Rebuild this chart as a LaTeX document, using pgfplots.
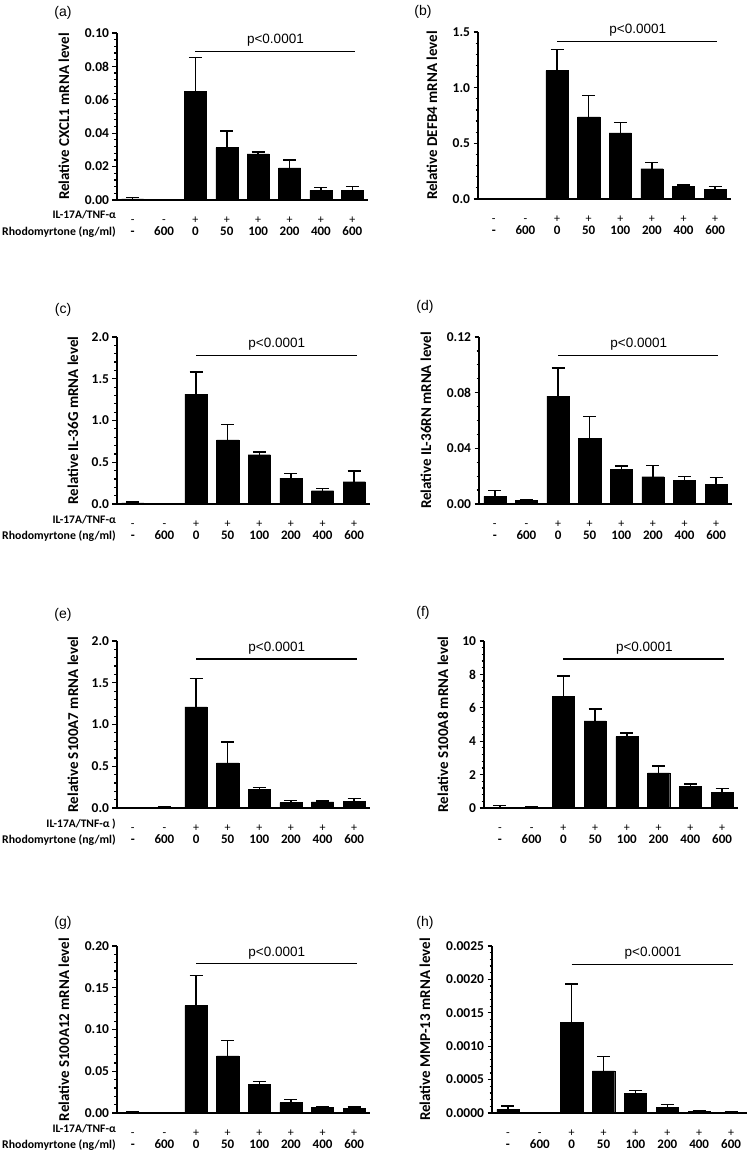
\documentclass[border=0pt]{standalone}
\usepackage{fontspec}
\setmainfont{Carlito}
\newfontfamily\arial{Liberation Sans}
\usepackage{pgfplots}
\pgfplotsset{compat=1.18}

\pgfplotsset{
  panel/.style={
    scale only axis, height=167pt, ybar, bar width=0.7,
    xmin=-0.5, xmax=7.5, ymin=0,
    axis lines*=left,
    axis line style={line width=1.4pt, black},
    xtick={0,...,7},
    xticklabels={-,-,+,+,+,+,+,+},
    xtick style={draw=none},
    xticklabel style={anchor=base, inner sep=0pt, yshift=-19pt, font=\fontsize{12}{12}\selectfont},
    extra x ticks={0,...,7},
    extra x tick labels={-,600,0,50,100,200,400,600},
    extra x tick style={major tick length=0pt, xticklabel style={yshift=-16pt, font=\bfseries\fontsize{13}{13}\selectfont}},
    tick align=outside,
    ytick style={line width=1.2pt, black},
    major tick length=4.5pt, minor tick length=2.5pt,
    yticklabel style={font=\bfseries\fontsize{13.5}{13.5}\selectfont, /pgf/number format/assume math mode=true},
    scaled y ticks=false,
    ylabel style={font=\bfseries\fontsize{15}{15}\selectfont, anchor=center},
    clip=false,
  },
  bars/.style={fill=black, draw=black,
    error bars/.cd, y dir=plus, y explicit,
    error bar style={line width=1.5pt, black},
    error mark options={rotate=90, line width=1.5pt, mark size=6.5pt, black}},
  prec/.style={yticklabel style={/pgf/number format/fixed, /pgf/number format/fixed zerofill, /pgf/number format/precision=#1}},
}
\newcommand{\rowheads}[1]{%
  \node[anchor=base east, inner sep=0pt, font=\bfseries\fontsize{11.5}{11.5}\selectfont] at ([yshift=-19pt,xshift=-1pt]rel axis cs:0,0) {#1};
  \node[anchor=base east, inner sep=0pt, font=\bfseries\fontsize{11.8}{11.8}\selectfont] at ([yshift=-35pt,xshift=-1pt]rel axis cs:0,0) {Rhodomyrtone (ng/ml)};}
\newcommand{\pline}[2]{%
  \draw[line width=1.4pt] (axis cs:2,#1) -- (axis cs:#2,#1);
  \node[anchor=base, inner sep=0pt, font=\arial\fontsize{13.5}{13.5}\selectfont] at ([yshift=7.5pt]axis cs:4.55,#1) {p<0.0001};}
\newcommand{\plab}[3]{\node[font=\arial\fontsize{14}{14}\selectfont] at (#1pt,-#2pt) {#3};}

\begin{document}
\begin{tikzpicture}
\path[use as bounding box] (0,0) rectangle (749pt,-1150pt);
\plab{63}{13}{(a)}
\plab{423}{12}{(b)}
\plab{63}{310}{(c)}
\plab{425}{307}{(d)}
\plab{63}{615}{(e)}
\plab{423}{613}{(f)}
\plab{63}{923}{(g)}
\plab{425}{923}{(h)}

% (a)
\begin{axis}[panel, width=251pt, at={(117pt,-200pt)}, anchor=south west,
  ymax=0.10, ytick={0,0.02,0.04,0.06,0.08,0.10}, minor y tick num=4, prec=2,
  ylabel={Relative CXCL1 mRNA level},
  ylabel style={at={([xshift=-53pt]axis description cs:0,0.5)}}]
\addplot[bars] coordinates {(0,0.0006) +- (0,0.001) (1,0.0003) +- (0,0.0001) (2,0.065) +- (0,0.0204) (3,0.0314) +- (0,0.010) (4,0.0276) +- (0,0.001) (5,0.0192) +- (0,0.0048) (6,0.0058) +- (0,0.0016) (7,0.0058) +- (0,0.0024)};
\pline{0.089}{7.1}
\rowheads{IL-17A/TNF-α}
\end{axis}

% (b)
\begin{axis}[panel, width=253pt, at={(478pt,-199pt)}, anchor=south west,
  ymax=1.5, ytick={0,0.5,1.0,1.5}, minor y tick num=4, prec=1,
  ylabel={Relative DEFB4 mRNA level},
  ylabel style={at={([xshift=-46pt]axis description cs:0,0.5)}}]
\addplot[bars] coordinates {(0,0.002) +- (0,0) (1,0.001) +- (0,0) (2,1.153) +- (0,0.188) (3,0.737) +- (0,0.191) (4,0.593) +- (0,0.093) (5,0.272) +- (0,0.057) (6,0.111) +- (0,0.015) (7,0.084) +- (0,0.027)};
\pline{1.416}{7.05}
\end{axis}

% (c)
\begin{axis}[panel, width=253pt, at={(117pt,-504pt)}, anchor=south west,
  ymax=2.0, ytick={0,0.5,1.0,1.5,2.0}, minor y tick num=4, prec=1,
  ylabel={Relative IL-36G mRNA level},
  ylabel style={at={([xshift=-44pt]axis description cs:0,0.5)}}]
\addplot[bars] coordinates {(0,0.015) +- (0,0.008) (1,0.006) +- (0,0.002) (2,1.315) +- (0,0.267) (3,0.769) +- (0,0.183) (4,0.590) +- (0,0.032) (5,0.311) +- (0,0.056) (6,0.159) +- (0,0.024) (7,0.267) +- (0,0.131)};
\pline{1.78}{7.1}
\rowheads{IL-17A/TNF-α}
\end{axis}

% (d)
\begin{axis}[panel, width=253pt, at={(479pt,-504pt)}, anchor=south west,
  ymax=0.12, ytick={0,0.04,0.08,0.12}, minor y tick num=3, prec=2,
  ylabel={Relative IL-36RN mRNA level},
  ylabel style={at={([xshift=-53pt]axis description cs:0,0.5)}}]
\addplot[bars] coordinates {(0,0.0055) +- (0,0.0043) (1,0.0024) +- (0,0.0005) (2,0.0775) +- (0,0.0203) (3,0.0473) +- (0,0.0156) (4,0.0249) +- (0,0.0024) (5,0.0196) +- (0,0.0081) (6,0.0172) +- (0,0.0024) (7,0.0141) +- (0,0.0048)};
\pline{0.1069}{7.05}
\end{axis}

% (e)
\begin{axis}[panel, width=253pt, at={(117pt,-808pt)}, anchor=south west,
  ymax=2.0, ytick={0,0.5,1.0,1.5,2.0}, minor y tick num=4, prec=1,
  ylabel={Relative S100A7 mRNA level},
  ylabel style={at={([xshift=-44pt]axis description cs:0,0.5)}}]
\addplot[bars] coordinates {(0,0.005) +- (0,0.002) (1,0.008) +- (0,0.002) (2,1.211) +- (0,0.343) (3,0.542) +- (0,0.247) (4,0.223) +- (0,0.024) (5,0.064) +- (0,0.028) (6,0.072) +- (0,0.012) (7,0.080) +- (0,0.032)};
\pline{1.785}{7.1}
\rowheads{IL-17A/TNF-α )}
\end{axis}

% (f)
\begin{axis}[panel, width=254pt, at={(484pt,-808pt)}, anchor=south west,
  ymax=10, ytick={0,2,4,6,8,10}, minor y tick num=4,
  ylabel={Relative S100A8 mRNA level},
  ylabel style={at={([xshift=-41pt]axis description cs:0,0.5)}}]
\addplot[bars] coordinates {(0,0.05) +- (0,0.1) (1,0.04) +- (0,0.01) (2,6.67) +- (0,1.24) (3,5.22) +- (0,0.72) (4,4.28) +- (0,0.20) (5,2.11) +- (0,0.42) (6,1.31) +- (0,0.14) (7,0.956) +- (0,0.2)};
\pline{8.92}{7.05}
\end{axis}

% (g)
\begin{axis}[panel, width=253pt, at={(117pt,-1113pt)}, anchor=south west,
  ymax=0.20, ytick={0,0.05,0.10,0.15,0.20}, minor y tick num=4, prec=2,
  ylabel={Relative S100A12 mRNA level},
  ylabel style={at={([xshift=-53pt]axis description cs:0,0.5)}}]
\addplot[bars] coordinates {(0,0.0008) +- (0,0.0003) (1,0.0002) +- (0,0) (2,0.1287) +- (0,0.0358) (3,0.0685) +- (0,0.0184) (4,0.0347) +- (0,0.0031) (5,0.0124) +- (0,0.0039) (6,0.0072) +- (0,0.0008) (7,0.006) +- (0,0.0012)};
\pline{0.1789}{7.1}
\rowheads{IL-17A/TNF-α}
\end{axis}

% (h)
\begin{axis}[panel, width=255pt, at={(492pt,-1113pt)}, anchor=south west,
  ymax=0.0025, ytick={0,0.0005,0.001,0.0015,0.002,0.0025}, minor y tick num=4, prec=4,
  ylabel={Relative MMP-13 mRNA level},
  ylabel style={at={([xshift=-67pt]axis description cs:0,0.5)}}]
\addplot[bars] coordinates {(0,0.0000547) +- (0,0.0000493) (1,0.000003) +- (0,0) (2,0.001362) +- (0,0.000566) (3,0.000631) +- (0,0.000214) (4,0.000293) +- (0,0.000045) (5,0.0000895) +- (0,0.0000345) (6,0.00002) +- (0,0.00001) (7,0.00001) +- (0,0.000003)};
\pline{0.002227}{7.05}
\end{axis}
\end{tikzpicture}
\end{document}
